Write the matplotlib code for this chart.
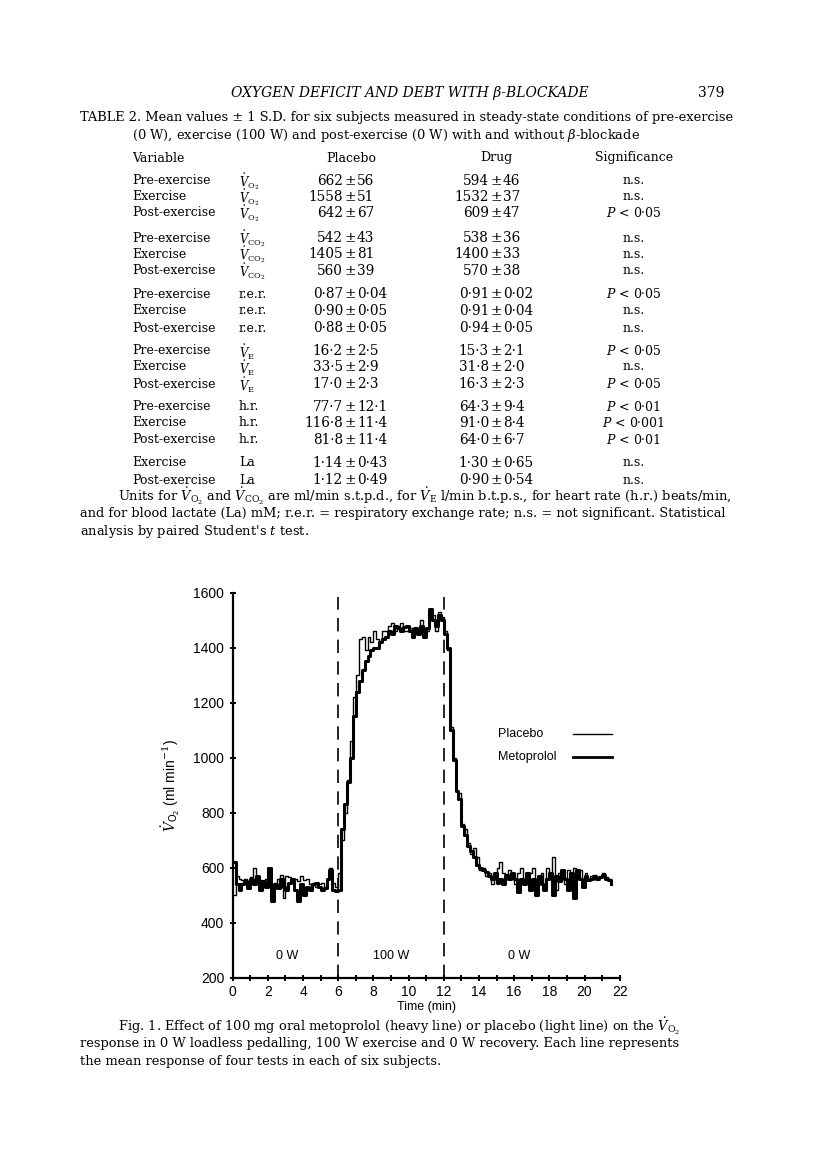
import numpy as np
import matplotlib
matplotlib.use('Agg')
import matplotlib.pyplot as plt

# ---- table 2 data ----
var_rows = [
    ('Pre-exercise', r'$\dot{V}_{\mathrm{O_2}}$', '662', '56', '594', '46', 'n.s.'),
    ('Exercise', r'$\dot{V}_{\mathrm{O_2}}$', '1558', '51', '1532', '37', 'n.s.'),
    ('Post-exercise', r'$\dot{V}_{\mathrm{O_2}}$', '642', '67', '609', '47', r'$P$ < 0·05'),
    ('Pre-exercise', r'$\dot{V}_{\mathrm{CO_2}}$', '542', '43', '538', '36', 'n.s.'),
    ('Exercise', r'$\dot{V}_{\mathrm{CO_2}}$', '1405', '81', '1400', '33', 'n.s.'),
    ('Post-exercise', r'$\dot{V}_{\mathrm{CO_2}}$', '560', '39', '570', '38', 'n.s.'),
    ('Pre-exercise', 'r.e.r.', '0·87', '0·04', '0·91', '0·02', r'$P$ < 0·05'),
    ('Exercise', 'r.e.r.', '0·90', '0·05', '0·91', '0·04', 'n.s.'),
    ('Post-exercise', 'r.e.r.', '0·88', '0·05', '0·94', '0·05', 'n.s.'),
    ('Pre-exercise', r'$\dot{V}_{\mathrm{E}}$', '16·2', '2·5', '15·3', '2·1', r'$P$ < 0·05'),
    ('Exercise', r'$\dot{V}_{\mathrm{E}}$', '33·5', '2·9', '31·8', '2·0', 'n.s.'),
    ('Post-exercise', r'$\dot{V}_{\mathrm{E}}$', '17·0', '2·3', '16·3', '2·3', r'$P$ < 0·05'),
    ('Pre-exercise', 'h.r.', '77·7', '12·1', '64·3', '9·4', r'$P$ < 0·01'),
    ('Exercise', 'h.r.', '116·8', '11·4', '91·0', '8·4', r'$P$ < 0·001'),
    ('Post-exercise', 'h.r.', '81·8', '11·4', '64·0', '6·7', r'$P$ < 0·01'),
    ('Exercise', 'La', '1·14', '0·43', '1·30', '0·65', 'n.s.'),
    ('Post-exercise', 'La', '1·12', '0·49', '0·90', '0·54', 'n.s.'),
]
row_y = [181, 197, 213, 238, 254, 271, 294, 311, 328, 351, 367, 384, 407, 423, 440, 463, 480]

# ---- figure 1 data: VO2 (ml/min), 10 s bins ----
bin_s = 10
placebo = [
    500, 570, 560, 555, 560, 545, 565, 600, 560, 555, 540, 560, 590, 530, 545, 560, 575, 490,
    570, 565, 555, 560, 550, 570, 555, 560, 540, 545, 530, 540, 545, 530, 555, 600, 545, 530,
    580, 700, 800, 920, 1060, 1220, 1300, 1430, 1440, 1390, 1440, 1420, 1460, 1430, 1420, 1460,
    1460, 1480, 1490, 1460, 1480, 1490, 1460, 1460, 1470, 1460, 1470, 1450, 1500, 1460, 1460,
    1500, 1520, 1460, 1530, 1510,
    1460, 1390, 1110, 1000, 880, 870, 760, 740, 690, 650, 670, 640, 590, 600, 570, 580, 540,
    560, 600, 620, 580, 560, 590, 570, 540, 580, 600, 560, 550, 580, 600, 540, 560, 580, 540,
    600, 560, 640, 520, 580, 560, 540, 590, 530, 600, 560, 590, 540, 580, 560, 570, 575, 565,
    570, 580, 565, 560, 545,
]
metoprolol = [
    620, 540, 520, 540, 550, 525, 560, 540, 570, 520, 550, 530, 600, 480, 540, 525, 560, 530,
    520, 545, 560, 520, 480, 540, 500, 530, 520, 540, 545, 530, 520, 525, 560, 590, 520, 515,
    520, 740, 830, 910, 1000, 1150, 1240, 1280, 1320, 1350, 1370, 1390, 1400, 1400, 1420, 1430,
    1440, 1460, 1450, 1480, 1470, 1460, 1475, 1480, 1460, 1440, 1470, 1450, 1480, 1440, 1470,
    1540, 1500, 1480, 1520, 1500,
    1450, 1400, 1100, 990, 880, 850, 750, 720, 680, 660, 640, 610, 600, 590, 585, 570, 560,
    580, 545, 560, 540, 575, 560, 580, 560, 510, 560, 540, 580, 520, 560, 500, 570, 540, 520,
    560, 580, 500, 570, 550, 590, 560, 520, 580, 490, 590, 560, 530, 570, 555, 560, 570, 560,
    565, 575, 560, 555, 540,
]
phase_lines = [6, 12]
load_labels = [(3.1, '0 W'), (9.0, '100 W'), (16.3, '0 W')]
xticks = list(range(0, 23, 2))
yticks = list(range(200, 1601, 200))

W, H = 816, 1163
fig = plt.figure(figsize=(W / 100, H / 100), dpi=100)
plt.rcParams['mathtext.fontset'] = 'dejavuserif'


def px(x, y):
    return x / W, 1 - y / H


serif = 'DejaVu Serif'
fs = 9.4    # running text
fb = 9.0    # table body labels
fn = 9.8    # table numbers

# page header
fig.text(*px(410, 93), 'OXYGEN DEFICIT AND DEBT WITH β-BLOCKADE', family=serif,
         style='italic', fontsize=10, ha='center', va='center')
fig.text(*px(724, 93), '379', family=serif, fontsize=10, ha='right', va='center')

# table caption
fig.text(*px(80, 118), 'TABLE 2. Mean values ± 1 S.D. for six subjects measured in steady-state '
         'conditions of pre-exercise', family=serif, fontsize=fs, va='center')
fig.text(*px(132, 135), '(0 W), exercise (100 W) and post-exercise (0 W) with and without '
         r'$\beta$-blockade', family=serif, fontsize=fs, va='center')

# column heads
fig.text(*px(132, 158), 'Variable', family=serif, fontsize=fb, va='center')
fig.text(*px(351, 158), 'Placebo', family=serif, fontsize=fb, va='center', ha='center')
fig.text(*px(496, 158), 'Drug', family=serif, fontsize=fb, va='center', ha='center')
fig.text(*px(634, 158), 'Significance', family=serif, fontsize=fb, va='center', ha='center')

for (name, sym, pm, ps, dm, ds, sig), y in zip(var_rows, row_y):
    fig.text(*px(132, y), name, family=serif, fontsize=fb, va='center')
    if sym.startswith('$'):
        fig.text(*px(239, y + 1), sym, family=serif, fontsize=8.4, va='center')
    else:
        fig.text(*px(239, y), sym, family=serif, fontsize=fb, va='center')
    for xc, m, s in ((350, pm, ps), (496, dm, ds)):
        fig.text(*px(xc - 7, y), m, family=serif, fontsize=fn, va='center', ha='right')
        fig.text(*px(xc, y), '±', family=serif, fontsize=fn, va='center', ha='center')
        fig.text(*px(xc + 7, y), s, family=serif, fontsize=fn, va='center', ha='left')
    fig.text(*px(634, y), sig, family=serif, fontsize=fb, va='center', ha='center')

# table footnote
fig.text(*px(118, 496), r'Units for $\dot{V}_{\mathrm{O_2}}$ and $\dot{V}_{\mathrm{CO_2}}$ are '
         r'ml/min s.t.p.d., for $\dot{V}_{\mathrm{E}}$ l/min b.t.p.s., for heart rate (h.r.) '
         'beats/min,', family=serif, fontsize=fs, va='center')
fig.text(*px(80, 514), 'and for blood lactate (La) mM; r.e.r. = respiratory exchange rate; '
         'n.s. = not significant. Statistical', family=serif, fontsize=fs, va='center')
fig.text(*px(80, 531), r"analysis by paired Student's $t$ test.", family=serif, fontsize=fs,
         va='center')

# figure caption
fig.text(*px(118, 1026), 'Fig. 1. Effect of 100 mg oral metoprolol (heavy line) or placebo '
         r'(light line) on the $\dot{V}_{\mathrm{O_2}}$', family=serif, fontsize=fs, va='center')
fig.text(*px(80, 1044), 'response in 0 W loadless pedalling, 100 W exercise and 0 W recovery. '
         'Each line represents', family=serif, fontsize=fs, va='center')
fig.text(*px(80, 1062), 'the mean response of four tests in each of six subjects.',
         family=serif, fontsize=fs, va='center')

# ---- chart ----
ax = fig.add_axes([232.7 / W, 1 - 977.7 / H, 387 / W, 385 / H])
t = np.arange(len(placebo)) * bin_s / 60
ax.step(t, placebo, where='post', color='black', lw=1.0)
ax.step(t, metoprolol, where='post', color='black', lw=2.2)
for xl in phase_lines:
    ax.axvline(xl, ymin=0, ymax=0.99, color='black', lw=1.2, ls=(0, (8, 5)))
for xt, lab in load_labels:
    ax.text(xt, 280, lab, family='Liberation Sans', fontsize=9, ha='center', va='center')

# legend drawn as in the original
ax.text(15.1, 1086, 'Placebo', family='Liberation Sans', fontsize=9, va='center')
ax.text(15.1, 1002, 'Metoprolol', family='Liberation Sans', fontsize=9, va='center')
ax.plot([19.35, 21.55], [1086, 1086], color='black', lw=1.0)
ax.plot([19.35, 21.55], [1002, 1002], color='black', lw=2.0)

ax.set_xlim(0, 22)
ax.set_ylim(200, 1600)
ax.set_xticks(xticks)
ax.set_xticks(range(0, 23), minor=True)
ax.set_yticks(yticks)
for s in ('top', 'right'):
    ax.spines[s].set_visible(False)
for s in ('left', 'bottom'):
    ax.spines[s].set_linewidth(1.6)
ax.tick_params(axis='both', which='both', direction='inout', length=5, width=1.4,
               labelsize=10)
ax.tick_params(axis='x', pad=3)
for lab in ax.get_xticklabels() + ax.get_yticklabels():
    lab.set_family('Liberation Sans')
ax.set_xlabel('Time (min)', family='Liberation Sans', fontsize=9, labelpad=1)
ax.set_ylabel(r'$\dot{V}_{\mathsf{O_2}}$ (ml min$^{-1}$)', family='Liberation Sans',
              fontsize=10, labelpad=8)

fig.savefig('out.png', dpi=100)
